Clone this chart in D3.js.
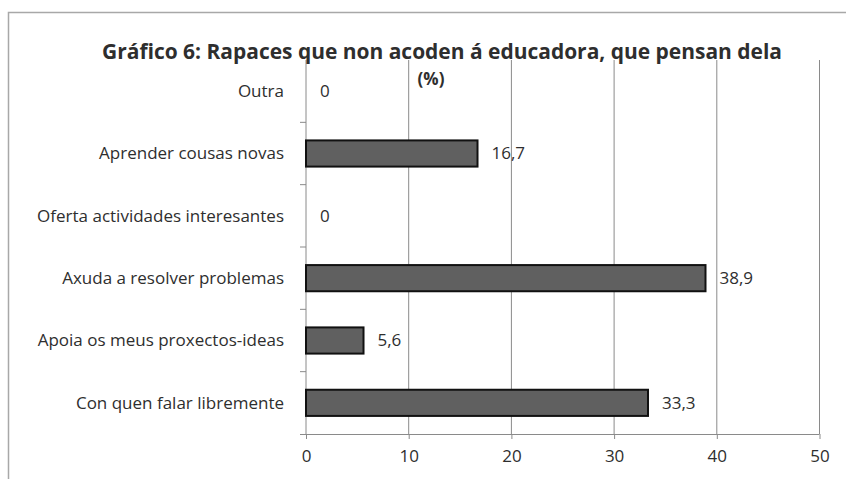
<!DOCTYPE html>
<html>
<head>
<meta charset="utf-8">
<script src="https://cdn.jsdelivr.net/npm/d3@7"></script>
<style>
  body { margin: 0; background: #fff; }
  text { font-family: "Open Sans", sans-serif; fill: #2e2e2e; }
</style>
</head>
<body>
<div id="chart"></div>
<script>
var categories = ["Outra", "Aprender cousas novas", "Oferta actividades interesantes",
  "Axuda a resolver problemas", "Apoia os meus proxectos-ideas", "Con quen falar libremente"];
var values = [0, 16.7, 0, 38.9, 5.6, 33.3];
var valueLabels = ["0", "16,7", "0", "38,9", "5,6", "33,3"];
var xTicks = [0, 10, 20, 30, 40, 50];
var titleLines = ["Gráfico 6: Rapaces que non acoden á educadora, que pensan dela", "(%)"];

var width = 846;
var height = 479;
var margin = {top: 60, right: 26.5, bottom: 45, left: 306};

var svg = d3.select("#chart").append("svg")
  .attr("width", width)
  .attr("height", height);

// outer frame
svg.append("rect")
  .attr("x", 8.5)
  .attr("y", 12.5)
  .attr("width", width)
  .attr("height", height)
  .attr("fill", "none")
  .attr("stroke", "#a8a8a8")
  .attr("stroke-width", 1.5);

var x = d3.scaleLinear()
  .domain([0, 50])
  .range([margin.left, width - margin.right]);

var y = d3.scaleBand()
  .domain(categories)
  .range([margin.top, height - margin.bottom])
  .paddingInner(0.58)
  .paddingOuter(0.29);

var bottom = height - margin.bottom;

// gridlines
svg.append("g")
  .selectAll("line")
  .data(xTicks.slice(1))
  .enter()
  .append("line")
  .attr("x1", function(d){return x(d);})
  .attr("x2", function(d){return x(d);})
  .attr("y1", margin.top)
  .attr("y2", bottom)
  .attr("stroke", "#8a8a8a")
  .attr("stroke-width", 1);

// x axis
var xAxis = svg.append("g")
  .attr("transform", "translate(0," + bottom + ")")
  .call(d3.axisBottom(x).tickValues(xTicks).tickSize(5).tickPadding(11));
xAxis.select(".domain").attr("stroke", "#8a8a8a").attr("d", "M" + (x(0) - 6) + ",0.5H" + x(50));
xAxis.selectAll(".tick line").attr("stroke", "#8a8a8a");
xAxis.selectAll("text")
  .attr("font-size", "17px")
  .attr("font-family", "Open Sans, sans-serif")
  .attr("fill", "#2e2e2e");

// y axis with ticks between categories
var yAxis = svg.append("g")
  .attr("transform", "translate(" + x(0) + ",0)");
yAxis.append("line")
  .attr("y1", margin.top)
  .attr("y2", bottom)
  .attr("stroke", "#8a8a8a");
yAxis.selectAll(".sep")
  .data(d3.range(1, categories.length))
  .enter()
  .append("line")
  .attr("class", "sep")
  .attr("x1", -6)
  .attr("x2", 0)
  .attr("y1", function(i){return margin.top + i * (bottom - margin.top) / categories.length;})
  .attr("y2", function(i){return margin.top + i * (bottom - margin.top) / categories.length;})
  .attr("stroke", "#8a8a8a");

// category labels
svg.append("g")
  .selectAll("text")
  .data(categories)
  .enter()
  .append("text")
  .attr("x", x(0) - 22)
  .attr("y", function(d){return y(d) + y.bandwidth() / 2;})
  .attr("dy", "0.35em")
  .attr("text-anchor", "end")
  .attr("font-size", "17px")
  .text(function(d){return d;});

// bars
svg.append("g")
  .selectAll("rect")
  .data(values)
  .enter()
  .filter(function(d){return d > 0;})
  .append("rect")
  .attr("x", x(0))
  .attr("y", function(d){return y(categories[values.indexOf(d)]);})
  .attr("width", function(d){return x(d) - x(0);})
  .attr("height", y.bandwidth())
  .attr("fill", "#606060")
  .attr("stroke", "#111")
  .attr("stroke-width", 2);

// value labels
svg.append("g")
  .selectAll("text")
  .data(values)
  .enter()
  .append("text")
  .attr("x", function(d){return x(d) + 14;})
  .attr("y", function(d, i){return y(categories[i]) + y.bandwidth() / 2;})
  .attr("dy", "0.35em")
  .attr("font-size", "17px")
  .text(function(d, i){return valueLabels[i];});

// title
var title = svg.append("text")
  .attr("x", 442)
  .attr("y", 59)
  .attr("text-anchor", "middle")
  .attr("font-weight", "bold")
  .attr("font-size", "19px")
  .attr("fill", "#1e1e1e")
  .text(titleLines[0]);
var tw = title.node().getComputedTextLength();
title.attr("font-size", (19 * 680 / tw).toFixed(2) + "px");

svg.append("text")
  .attr("x", 431)
  .attr("y", 85)
  .attr("text-anchor", "middle")
  .attr("font-weight", "bold")
  .attr("font-size", "17px")
  .attr("fill", "#1e1e1e")
  .text(titleLines[1]);
</script>
</body>
</html>
